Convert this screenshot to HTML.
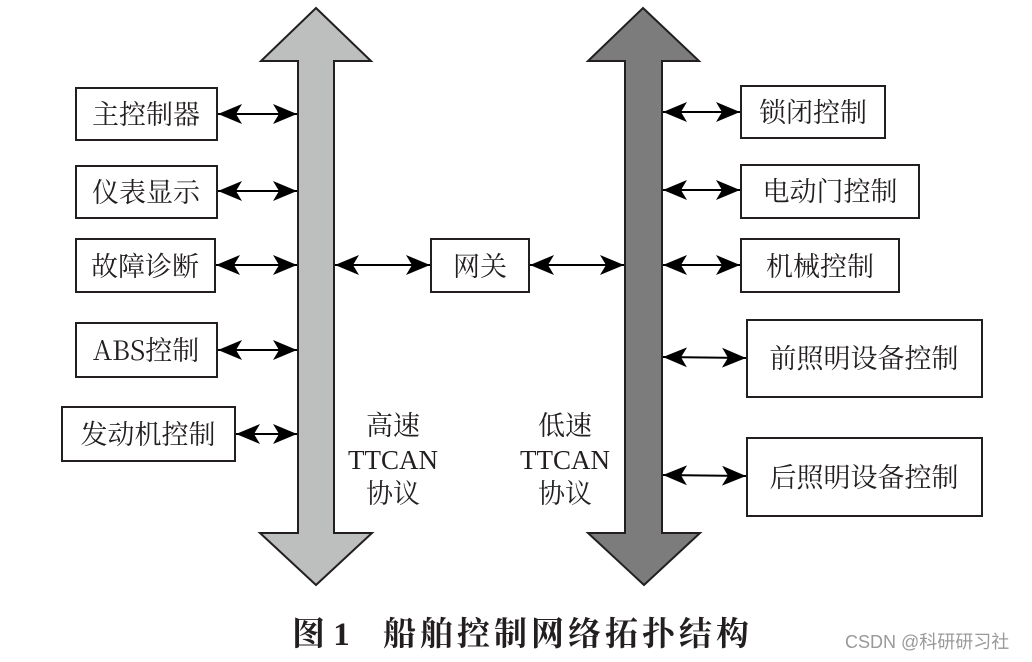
<!DOCTYPE html>
<html><head><meta charset="utf-8"><style>
body{margin:0;background:#fff}
svg{display:block}
text{font-family:"Liberation Serif","Noto Serif CJK SC","Noto Sans CJK SC",serif;fill:#231f20}
.b{font-family:"Noto Serif CJK SC","Liberation Serif",serif;font-size:27px}
</style></head><body>
<svg width="1032" height="662" viewBox="0 0 1032 662" xmlns="http://www.w3.org/2000/svg">
<defs>
<marker id="ah" viewBox="0 0 24 20" refX="24" refY="10" markerWidth="24" markerHeight="20" markerUnits="userSpaceOnUse" orient="auto-start-reverse">
<path d="M0,0 L24,10 L0,20 L6,10 Z" fill="#000"/>
</marker>
</defs>
<polygon points="316,8 371,61 334,61 334,533 372,533 316,585 260,533 298,533 298,61 261,61" fill="#bdbebe" stroke="#231f20" stroke-width="2"/>
<polygon points="643,8 699,61 662,61 662,533 700,533 644,585 588,533 625,533 625,61 588,61" fill="#7b7c7b" stroke="#231f20" stroke-width="2"/>
<g fill="#fff" stroke="#231f20" stroke-width="2">
<rect x="76" y="88" width="141" height="52"/>
<rect x="76" y="166" width="141" height="52"/>
<rect x="76" y="239" width="139" height="53"/>
<rect x="76" y="323" width="141" height="54"/>
<rect x="62" y="407" width="173" height="54"/>
<rect x="431" y="239" width="98" height="53"/>
<rect x="741" y="86" width="144" height="52"/>
<rect x="741" y="165" width="178" height="53"/>
<rect x="741" y="239" width="158" height="53"/>
<rect x="747" y="320" width="235" height="77"/>
<rect x="747" y="438" width="235" height="78"/>
</g>
<g stroke="#000" stroke-width="2" marker-start="url(#ah)" marker-end="url(#ah)">
<line x1="218" y1="114" x2="297" y2="114"/>
<line x1="218" y1="191" x2="297" y2="191"/>
<line x1="216" y1="265" x2="297" y2="265"/>
<line x1="218" y1="350" x2="297" y2="350"/>
<line x1="236" y1="434" x2="297" y2="434"/>
<line x1="335" y1="265" x2="430" y2="265"/>
<line x1="530" y1="265" x2="624" y2="265"/>
<line x1="663" y1="112" x2="740" y2="112"/>
<line x1="663" y1="190" x2="740" y2="190"/>
<line x1="663" y1="265" x2="740" y2="265"/>
<line x1="663" y1="357" x2="746" y2="358"/>
<line x1="663" y1="475" x2="746" y2="476"/>
</g>
<g text-anchor="middle">
<text class="b" x="146" y="124">主控制器</text>
<text class="b" x="146" y="202">仪表显示</text>
<text class="b" x="145" y="276">故障诊断</text>
<text class="b" x="146" y="360">ABS控制</text>
<text class="b" x="148" y="444">发动机控制</text>
<text class="b" x="480" y="276">网关</text>
<text class="b" x="813" y="122">锁闭控制</text>
<text class="b" x="830" y="201">电动门控制</text>
<text class="b" x="820" y="276">机械控制</text>
<text class="b" x="864" y="368">前照明设备控制</text>
<text class="b" x="864" y="487">后照明设备控制</text>
<text class="b" x="393" y="435">高速</text>
<text x="393" y="469" style="font-size:27px">TTCAN</text>
<text class="b" x="393" y="503">协议</text>
<text class="b" x="565" y="435">低速</text>
<text x="565" y="469" style="font-size:27px">TTCAN</text>
<text class="b" x="565" y="503">协议</text>
</g>
<text x="292" y="645" style="font-size:33px;font-weight:bold">图 1</text>
<text x="383" y="645" class="b" style="font-size:33px;letter-spacing:4px;font-weight:bold">船舶控制网络拓扑结构</text>
<text x="845" y="648" style="font-family:'Liberation Sans','Noto Sans CJK SC',sans-serif;font-size:18px;fill:#999">CSDN @科研研习社</text>
</svg>
</body></html>
